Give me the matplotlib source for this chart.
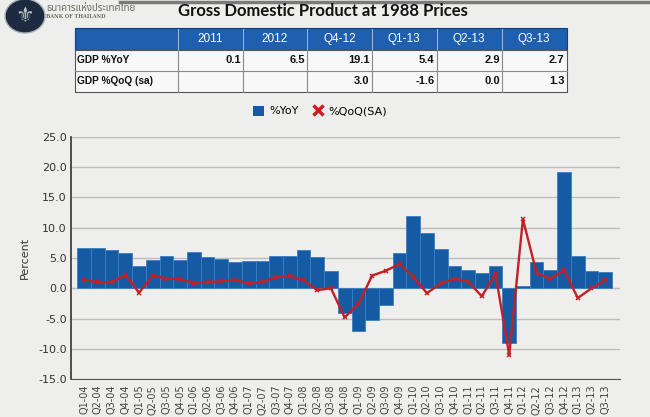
import matplotlib
matplotlib.use("Agg")
import matplotlib.pyplot as plt
from matplotlib.patches import Ellipse, Rectangle
from matplotlib.lines import Line2D
import numpy as np

quarters = ["Q1-04", "Q2-04", "Q3-04", "Q4-04", "Q1-05", "Q2-05", "Q3-05", "Q4-05",
            "Q1-06", "Q2-06", "Q3-06", "Q4-06", "Q1-07", "Q2-07", "Q3-07", "Q4-07",
            "Q1-08", "Q2-08", "Q3-08", "Q4-08", "Q1-09", "Q2-09", "Q3-09", "Q4-09",
            "Q1-10", "Q2-10", "Q3-10", "Q4-10", "Q1-11", "Q2-11", "Q3-11", "Q4-11",
            "Q1-12", "Q2-12", "Q3-12", "Q4-12", "Q1-13", "Q2-13", "Q3-13"]
yoy = [6.7, 6.6, 6.3, 5.8, 3.6, 4.7, 5.4, 4.7,
       6.0, 5.1, 4.8, 4.3, 4.5, 4.5, 5.4, 5.3,
       6.3, 5.1, 2.9, -4.1, -7.0, -5.2, -2.8, 5.8,
       11.9, 9.1, 6.5, 3.7, 3.1, 2.6, 3.6, -9.0,
       0.4, 4.3, 3.0, 19.1, 5.4, 2.9, 2.7]
qoq = [1.4, 1.0, 1.0, 2.2, -0.7, 2.1, 1.6, 1.5,
       0.9, 1.0, 1.2, 1.4, 0.8, 1.0, 1.9, 2.0,
       1.3, -0.3, 0.0, -4.8, -2.6, 2.1, 2.9, 4.0,
       1.9, -0.8, 0.8, 1.6, 1.1, -1.3, 2.4, -11.0,
       11.4, 2.5, 1.6, 3.0, -1.6, 0.0, 1.3]

table_cols = ["2011", "2012", "Q4-12", "Q1-13", "Q2-13", "Q3-13"]
table_rows = ["GDP %YoY", "GDP %QoQ (sa)"]
table_yoy = ["0.1", "6.5", "19.1", "5.4", "2.9", "2.7"]
table_qoq = ["", "", "3.0", "-1.6", "0.0", "1.3"]

title = "Gross Domestic Product at 1988 Prices"
bank_thai = "ธนาคารแห่งประเทศไทย"
bank_en = "BANK OF THAILAND"

W, H = 650, 417
bg = "#eeeeec"
fig = plt.figure(figsize=(6.5, 4.17), dpi=100, facecolor=bg)

def fx(px):
    return px / W

def fy(py):
    return 1 - py / H

# top rule
fig.add_artist(Line2D([fx(120), fx(650)], [fy(2), fy(2)], color="#7a7a7a", lw=2.5))

# logo
fig.add_artist(Ellipse((fx(25), fy(16)), 40 / W, 34 / H, transform=fig.transFigure,
                       facecolor="#1d2a3f", edgecolor="#a9b0b8", lw=1))
fig.text(fx(25), fy(16), "⚜", color="#b8c0c8", fontsize=15, ha="center", va="center",
         family=["DejaVu Sans"])
fig.text(fx(46.5), fy(8.5), bank_thai, color="#6e6a60", fontsize=7, ha="left", va="center",
         family=["Noto Sans Thai", "Noto Sans", "DejaVu Sans"])
fig.text(fx(46.5), fy(17), bank_en, color="#6e6a60", fontsize=3.6, ha="left", va="center",
         family=["DejaVu Serif"], weight="bold")

fig.text(fx(322.5), fy(11), title, fontsize=12, weight="bold", ha="center", va="center",
         color="#111111", family=["Lato", "DejaVu Sans"])

# table
col_x = [75, 178.3, 242.7, 307.3, 371.7, 436.7, 501.7, 566.7]
row_y = [28.5, 49.5, 70.7, 91.7]
x0, x1 = col_x[0], col_x[-1]
fig.add_artist(Rectangle((fx(x0), fy(92.7)), fx(x1 - x0 + 1.5), (92.7 - 28.5) / H,
                         transform=fig.transFigure, facecolor="#444444", edgecolor="none"))
fig.add_artist(Rectangle((fx(x0), fy(row_y[1])), fx(x1 - x0), (row_y[1] - row_y[0]) / H,
                         transform=fig.transFigure, facecolor="#1f5fb0", edgecolor="#0d3f80", lw=0.8))
fig.add_artist(Rectangle((fx(x0), fy(row_y[3])), fx(x1 - x0), (row_y[3] - row_y[1]) / H,
                         transform=fig.transFigure, facecolor="#f8f8f8", edgecolor="#555555", lw=0.8))
for xv in col_x[1:-1]:
    fig.add_artist(Line2D([fx(xv), fx(xv)], [fy(row_y[0]), fy(row_y[1])], color="#9ab4d8", lw=0.8))
    fig.add_artist(Line2D([fx(xv), fx(xv)], [fy(row_y[1]), fy(row_y[3])], color="#888888", lw=0.8))
fig.add_artist(Line2D([fx(x0), fx(x1)], [fy(row_y[2]), fy(row_y[2])], color="#888888", lw=0.8))
for i, c in enumerate(table_cols):
    fig.text(fx((col_x[i + 1] + col_x[i + 2]) / 2), fy((row_y[0] + row_y[1]) / 2), c,
             color="white", fontsize=8.5, ha="center", va="center", family=["Liberation Sans"])
for r, (lab, vals) in enumerate(zip(table_rows, [table_yoy, table_qoq])):
    yc = fy((row_y[r + 1] + row_y[r + 2]) / 2)
    fig.text(fx(77), yc, lab, fontsize=7.3, weight="bold", ha="left", va="center",
             family=["Liberation Sans"], color="#111111")
    for i, v in enumerate(vals):
        fig.text(fx(col_x[i + 2] - 2), yc, v, fontsize=8, weight="bold", ha="right", va="center",
                 family=["Liberation Sans"], color="#111111")

# chart
ax = fig.add_axes([fx(71), fy(379.3), fx(620 - 71), (379.3 - 136.7) / H])
ax.set_facecolor(bg)
x = np.arange(len(quarters))
ax.bar(x, yoy, width=1.0, color="#155ba3", edgecolor="#3d7cc0", linewidth=0.6, zorder=2)
ax.plot(x, qoq, color="#c41f26", lw=1.7, marker="x", markersize=3.5, markeredgewidth=1.1,
        zorder=3)
ax.set_ylim(-15, 25)
ax.set_yticks(np.arange(-15, 26, 5))
ax.set_yticklabels([f"{v:.1f}" for v in np.arange(-15, 26, 5)], fontsize=8, color="#333333")
ax.set_xlim(-0.96, 39.08)
ax.set_xticks(x)
ax.set_xticklabels(quarters, rotation=90, fontsize=7, color="#444444")
ax.tick_params(axis="x", length=0, pad=4)
ax.tick_params(axis="y", length=0, pad=3)
ax.grid(axis="y", color="#bcbcbc", lw=1, zorder=0)
ax.set_axisbelow(True)
for s in ["top", "right"]:
    ax.spines[s].set_visible(False)
ax.spines["left"].set_color("#333333")
ax.spines["bottom"].set_color("#555555")
ax.spines["left"].set_linewidth(1.2)
ax.set_ylabel("Percent", fontsize=8, color="#333333", labelpad=6)

handles = [Rectangle((0, 0), 1, 1, facecolor="#155ba3"),
           Line2D([], [], color="#cc1f1f", marker="x", linestyle="none", markersize=7,
                  markeredgewidth=2.5)]
fig.legend(handles, ["%YoY", "%QoQ(SA)"], loc="center", bbox_to_anchor=(fx(320), fy(111)),
           ncol=2, frameon=False, fontsize=8, handlelength=1.0, handleheight=1.0,
           handletextpad=0.5, columnspacing=1.2)

fig.savefig("out.png", dpi=100, facecolor=bg)
